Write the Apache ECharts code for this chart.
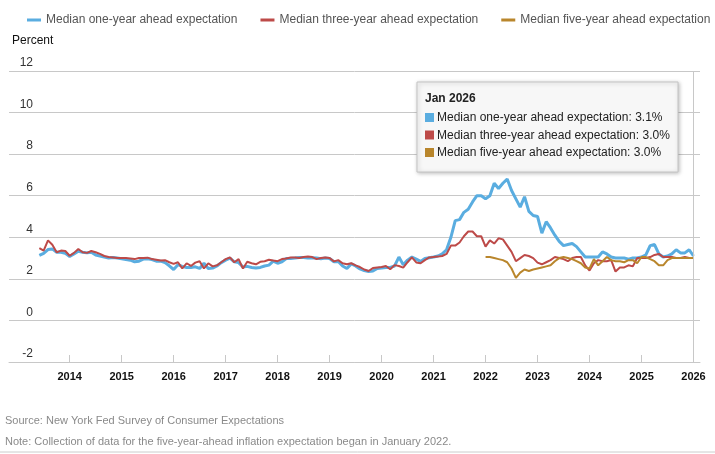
<!DOCTYPE html>
<html>
<head>
<meta charset="utf-8">
<script src="https://cdn.jsdelivr.net/npm/echarts@6/dist/echarts.min.js"></script>
<style>
html,body{margin:0;padding:0;background:#fff;}
#chart{width:715px;height:454px;}
</style>
</head>
<body>
<div id="chart"></div>
<script>
// ---- data (monthly, starting June 2013) ----
const monthNames = ['Jan','Feb','Mar','Apr','May','Jun','Jul','Aug','Sep','Oct','Nov','Dec'];
const startYear = 2013, startMonth = 5; // June 2013
const seriesNames = ['Median one-year ahead expectation','Median three-year ahead expectation','Median five-year ahead expectation'];
const oneYear = [
  3.13,3.23,3.41,3.44,3.28,3.28,3.23,
  3.08,3.20,3.33,3.28,3.25,3.28,3.15,3.10,3.05,3.00,3.03,3.00,
  2.97,2.93,2.90,2.82,2.85,2.95,2.97,2.93,2.85,2.85,2.78,2.63,
  2.45,2.68,2.60,2.55,2.55,2.58,2.50,2.75,2.50,2.52,2.62,2.78,
  2.90,3.00,2.82,2.78,2.57,2.60,2.55,2.52,2.55,2.62,2.66,2.85,
  2.75,2.82,2.98,2.98,3.00,3.03,3.03,3.00,3.02,3.00,2.97,3.00,
  2.98,2.82,2.84,2.62,2.50,2.72,2.62,2.48,2.40,2.35,2.38,2.50,
  2.52,2.55,2.55,2.62,3.05,2.68,2.90,3.05,2.95,2.84,2.98,3.02,
  3.05,3.10,3.20,3.40,4.00,4.80,4.85,5.20,5.35,5.70,6.00,6.00,
  5.85,6.00,6.60,6.35,6.60,6.80,6.25,5.85,5.45,5.95,5.25,5.05,
  5.00,4.20,4.75,4.45,4.10,3.80,3.60,3.65,3.70,3.55,3.30,3.05,
  3.05,3.05,3.05,3.30,3.20,3.05,3.00,3.00,3.00,2.95,3.00,3.00,
  3.05,3.15,3.60,3.65,3.20,3.05,3.10,3.20,3.40,3.25,3.25,3.40,
  3.10
];
const threeYear = [
  3.48,3.36,3.85,3.64,3.28,3.36,3.34,
  3.11,3.25,3.44,3.28,3.25,3.34,3.28,3.20,3.10,3.05,3.03,3.00,
  3.00,3.00,2.98,2.95,3.00,3.00,3.02,2.95,2.92,2.88,2.90,2.80,
  2.72,2.80,2.50,2.75,2.62,2.78,2.85,2.50,2.75,2.60,2.65,2.80,
  2.95,3.03,2.80,2.95,2.50,2.82,2.75,2.70,2.82,2.85,2.92,2.88,
  2.85,2.95,2.98,3.03,3.03,3.00,3.05,3.07,3.05,2.95,3.00,3.03,
  3.00,2.84,2.90,2.75,2.70,2.75,2.65,2.57,2.45,2.38,2.52,2.55,
  2.57,2.62,2.46,2.66,2.62,2.54,2.80,3.03,2.79,2.75,2.90,3.03,
  3.05,3.07,3.10,3.20,3.60,3.60,3.75,4.05,4.28,4.28,4.05,4.05,
  3.55,3.85,3.70,3.95,3.90,3.60,3.30,2.85,3.00,3.15,3.10,3.00,
  2.78,2.70,2.80,2.90,3.05,3.00,2.95,2.85,3.00,3.05,3.05,2.65,
  2.40,2.75,2.90,2.85,2.85,2.90,2.35,2.55,2.55,2.65,2.60,3.00,
  3.00,3.00,3.05,3.15,3.20,3.05,3.05,3.05,3.00,3.00,3.05,3.00,
  3.00
];
// five-year series starts January 2022
const fiveYearStartYear = 2022, fiveYearStartMonth = 0;
const fiveYear = [
  3.05,3.05,3.00,2.95,2.90,2.80,2.50,2.05,2.30,2.45,2.38,2.45,
  2.50,2.55,2.60,2.65,2.85,3.00,3.05,3.00,2.95,2.85,2.75,2.55,
  2.50,2.95,2.65,2.85,3.05,2.90,2.85,2.85,2.80,2.90,2.90,2.75,
  3.05,3.05,2.95,2.85,2.65,2.65,2.90,3.00,3.00,3.00,3.00,3.00,
  3.00
];
const xTickYears = [2014,2015,2016,2017,2018,2019,2020,2021,2022,2023,2024,2025,2026];

// ---- build ----
const baseYear = 2014;
function idx(y, m){ return (y - baseYear) * 12 + m; }
function toPairs(arr, y, m){ const s = idx(y, m); return arr.map((v, i) => [s + i, v]); }
const d1 = toPairs(oneYear, startYear, startMonth);
const d3 = toPairs(threeYear, startYear, startMonth);
const d5 = toPairs(fiveYear, fiveYearStartYear, fiveYearStartMonth);
const lastIdx = d1[d1.length - 1][0];
const lastYear = baseYear + Math.floor(lastIdx / 12);
const lastLabel = monthNames[((lastIdx % 12) + 12) % 12] + ' ' + lastYear;
const tickVals = xTickYears.map(y => idx(y, 0));
const colors = ['#5aade0', '#bd4a48', '#b9862c'];
const FONT = '"Liberation Sans", Arial, sans-serif';

const chart = echarts.init(document.getElementById('chart'));
const lastVals = [oneYear[oneYear.length-1], threeYear[threeYear.length-1], fiveYear[fiveYear.length-1]];

const tipChildren = [
  {type:'rect', shape:{x:0,y:0,width:261,height:90},
   style:{fill:'#f7f7f7', stroke:'#c4c4c4', lineWidth:1, shadowBlur:4, shadowColor:'rgba(0,0,0,0.25)', shadowOffsetX:1, shadowOffsetY:1}},
  {type:'text', x:8, y:17, style:{text:lastLabel, font:'bold 12px ' + FONT, fill:'#222', verticalAlign:'middle'}}
];
seriesNames.forEach((n, i) => {
  tipChildren.push({type:'rect', shape:{x:8, y:31 + i*17.5, width:9, height:9}, style:{fill:colors[i]}});
  tipChildren.push({type:'text', x:20, y:36 + i*17.5,
    style:{text: n + ': ' + lastVals[i].toFixed(1) + '%', font:'12px ' + FONT, fill:'#222', verticalAlign:'middle'}});
});

chart.setOption({
  animation: false,
  textStyle: {fontFamily: FONT},
  color: colors,
  legend: {
    left: 27, top: 14, width: 688, padding: 0, itemGap: 23, itemWidth: 14, itemHeight: 3, icon: 'rect',
    textStyle: {color: '#555', fontSize: 12, fontFamily: FONT},
    data: seriesNames
  },
  grid: {left: 9, right: 15, top: 71, bottom: 92},
  xAxis: {
    type: 'value', min: -14, max: 145.5,
    axisLine: {show: true, onZero: false, lineStyle: {color: '#c8c8c8'}},
    axisTick: {show: true, inside: true, length: 7, lineStyle: {color: '#c8c8c8'}, customValues: tickVals},
    axisLabel: {customValues: tickVals, margin: 9, fontSize: 11, fontWeight: 'bold', color: '#111',
      formatter: v => String(baseYear + Math.round(v / 12))},
    splitLine: {show: false}
  },
  yAxis: {
    type: 'value', min: -2, max: 12, interval: 2,
    axisLine: {show: false}, axisTick: {show: false},
    axisLabel: {inside: true, margin: 24, align: 'right', verticalAlign: 'bottom', padding: [0,0,2,0],
      fontSize: 12, color: '#333'},
    splitLine: {lineStyle: {color: '#c8c8c8'}}
  },
  series: [
    {name: seriesNames[0], type: 'line', data: d1, showSymbol: false, symbol: 'none',
     lineStyle: {width: 3, color: colors[0]},
     markLine: {silent: true, symbol: 'none', label: {show: false},
       lineStyle: {color: '#c8c8c8', width: 1, type: 'solid'}, data: [{xAxis: lastIdx}]}},
    {name: seriesNames[1], type: 'line', data: d3, showSymbol: false, symbol: 'none',
     lineStyle: {width: 2, color: colors[1]}},
    {name: seriesNames[2], type: 'line', data: d5, showSymbol: false, symbol: 'none',
     lineStyle: {width: 2, color: colors[2]}}
  ],
  graphic: [
    {type:'text', left: 12, top: 35, style:{text:'Percent', font:'12px ' + FONT, fill:'#111'}},
    {type:'text', left: 5, top: 415, style:{text:'Source: New York Fed Survey of Consumer Expectations', font:'11px ' + FONT, fill:'#8a8a8a'}},
    {type:'text', left: 5, top: 436, style:{text:'Note: Collection of data for the five-year-ahead inflation expectation began in January 2022.', font:'11px ' + FONT, fill:'#8a8a8a'}},
    {type:'line', shape:{x1:0, y1:452, x2:715, y2:452}, style:{stroke:'#cccccc', lineWidth:1}},
    {type:'group', x: 417, y: 82, z: 100, children: tipChildren.map(c => Object.assign({z: 100}, c))}
  ]
});
</script>
</body>
</html>
